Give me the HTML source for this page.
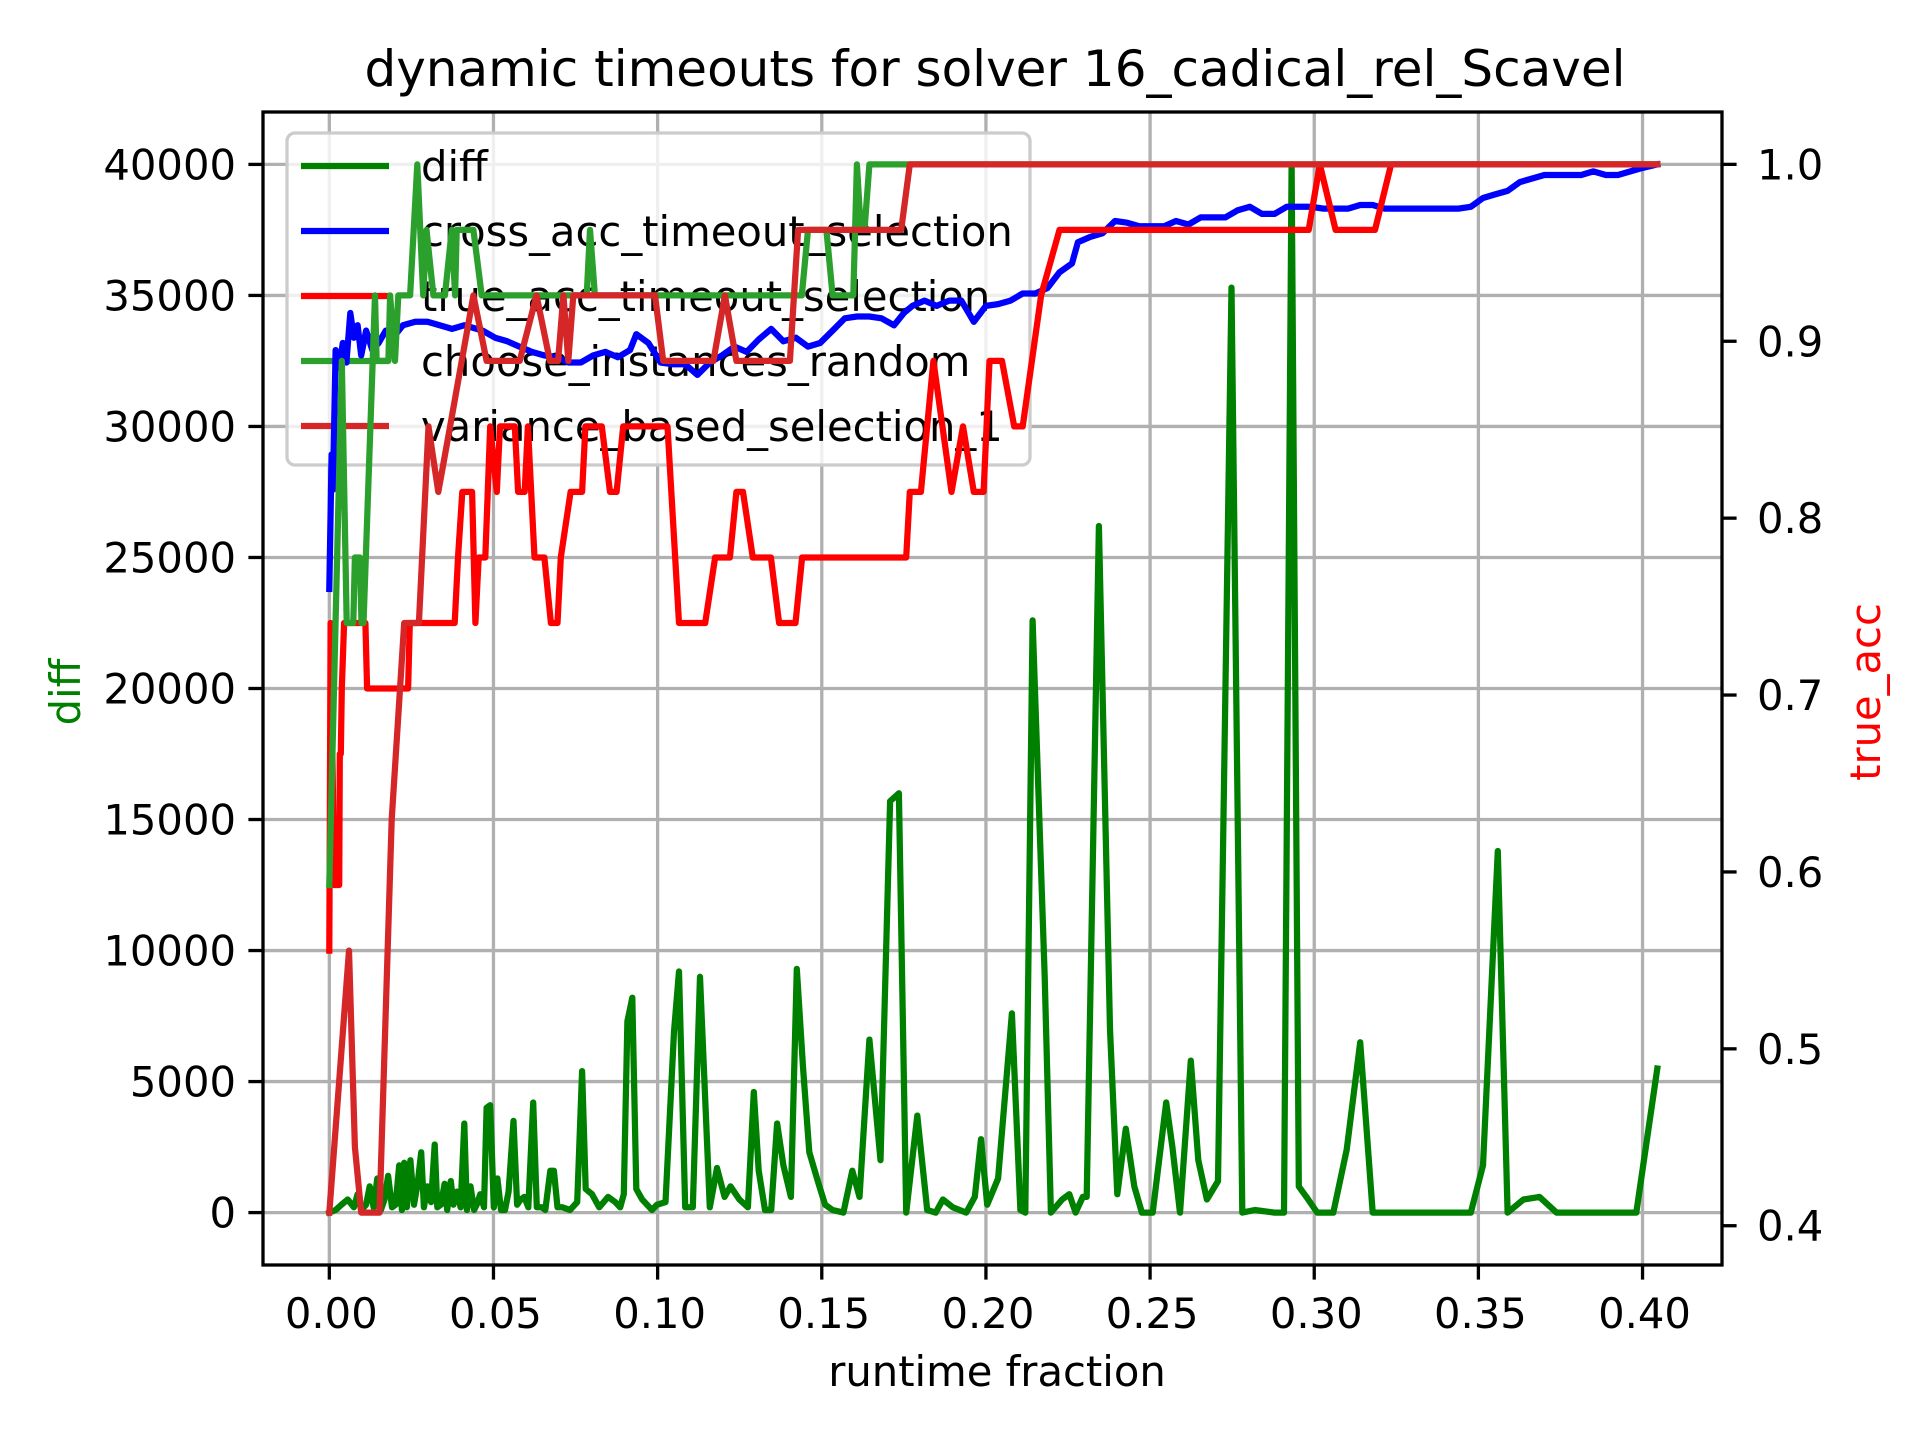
<!DOCTYPE html>
<html><head><meta charset="utf-8">
<style>
html,body{margin:0;padding:0;background:#fff;}
svg{display:block;font-family:"DejaVu Sans","Liberation Sans",sans-serif;}
</style></head>
<body>
<svg id="chart" width="1920" height="1440" viewBox="0 0 1920 1440" xmlns="http://www.w3.org/2000/svg">
<rect width="1920" height="1440" fill="#fff"/>
<text x="995" y="86" font-size="50" text-anchor="middle" fill="#000">dynamic timeouts for solver 16_cadical_rel_Scavel</text>
<g id="gridL"></g>
<g id="seriesL"></g>
<g id="legend"></g>
<g id="seriesR"></g>
<g id="axes"></g>
<text x="997" y="1392" font-size="41.7" text-anchor="middle" transform="translate(0,-6)">runtime fraction</text>
<text transform="translate(80,692) rotate(-90)" font-size="41.7" text-anchor="middle" fill="#008000">diff</text>
<text transform="translate(1880,692) rotate(-90)" font-size="41.7" text-anchor="middle" fill="#ff0000">true_acc</text>
</svg>
<script>
const xTicks=[0,0.05,0.10,0.15,0.20,0.25,0.30,0.35,0.40];
const xTickLabels=["0.00","0.05","0.10","0.15","0.20","0.25","0.30","0.35","0.40"];
const yLTicks=[0,5000,10000,15000,20000,25000,30000,35000,40000];
const yLTickLabels=["0","5000","10000","15000","20000","25000","30000","35000","40000"];
const yRTicks=[0.4,0.5,0.6,0.7,0.8,0.9,1.0];
const yRTickLabels=["0.4","0.5","0.6","0.7","0.8","0.9","1.0"];

const diffX=[0,0.0019,0.0037,0.0056,0.0075,0.0086,0.0097,0.0112,0.0123,0.0135,0.0146,0.0157,0.0168,0.0179,0.0191,0.0202,0.0213,0.0221,0.0228,0.0236,0.0247,0.0258,0.0269,0.028,0.0288,0.0299,0.031,0.0321,0.0329,0.034,0.0351,0.0359,0.037,0.0378,0.0389,0.04,0.0411,0.0419,0.043,0.0441,0.0449,0.046,0.0471,0.0479,0.049,0.0501,0.0512,0.0523,0.0535,0.0546,0.0561,0.0572,0.0583,0.0594,0.0606,0.0621,0.0632,0.0647,0.0658,0.0673,0.0684,0.0695,0.071,0.0733,0.0755,0.077,0.0781,0.08,0.0822,0.0849,0.0871,0.0886,0.0897,0.0908,0.0923,0.0935,0.0953,0.0983,0.0998,0.1024,0.105,0.1065,0.1084,0.1107,0.1129,0.1159,0.1181,0.1204,0.1222,0.1249,0.1275,0.1293,0.1308,0.1327,0.1346,0.1364,0.1383,0.1406,0.1424,0.1443,0.1462,0.1488,0.151,0.1533,0.1566,0.1593,0.1615,0.1645,0.1679,0.1708,0.1735,0.1757,0.1791,0.1821,0.1847,0.1869,0.1899,0.194,0.1966,0.1985,0.2004,0.2037,0.2079,0.2105,0.212,0.2142,0.2179,0.2198,0.2232,0.2254,0.2273,0.2295,0.2307,0.2344,0.2378,0.24,0.2426,0.2452,0.2475,0.2508,0.2549,0.2568,0.2591,0.2624,0.2647,0.2673,0.2707,0.2748,0.2781,0.2819,0.2879,0.2908,0.2931,0.2953,0.2976,0.3009,0.3058,0.3099,0.314,0.3178,0.3477,0.3514,0.3559,0.3589,0.3637,0.3686,0.3738,0.3981,0.4045];
const diffY=[0,100,300,500,200,700,100,300,1000,200,1300,100,500,1400,200,300,1800,100,1900,200,2000,300,1100,2300,200,1000,400,2600,200,300,1100,100,1200,300,800,200,3400,100,1000,100,300,700,200,4000,4100,200,1300,100,100,800,3500,300,500,600,200,4200,200,200,100,1600,1600,200,200,100,400,5400,900,700,200,600,400,200,700,7300,8200,900,500,100,300,400,6900,9200,200,200,9000,200,1700,600,1000,500,200,4600,1600,100,100,3400,1800,600,9300,5500,2300,1200,300,100,0,1600,600,6600,2000,15700,16000,0,3700,100,0,500,200,0,600,2800,300,1300,7600,100,0,22600,9000,0,500,700,0,600,600,26200,7000,700,3200,1000,0,0,4200,2500,0,5800,2000,500,1200,35300,0,100,0,0,40000,1000,600,0,0,2400,6500,0,0,1800,13800,0,500,600,0,0,5500];

const crossX=[0,0.0007,0.0011,0.0019,0.003,0.0041,0.0052,0.0064,0.0075,0.0086,0.0097,0.0112,0.0131,0.015,0.0172,0.0194,0.0224,0.0262,0.0299,0.0336,0.0374,0.0411,0.0467,0.0505,0.0542,0.0579,0.0617,0.0654,0.0692,0.0729,0.0766,0.0804,0.0841,0.0879,0.0916,0.0935,0.0972,0.1009,0.1047,0.1084,0.1121,0.1159,0.1196,0.1234,0.1271,0.1308,0.1346,0.1383,0.1421,0.1458,0.1495,0.1533,0.157,0.1607,0.1645,0.1682,0.172,0.175,0.1776,0.1813,0.185,0.1888,0.1925,0.1963,0.2,0.2037,0.2075,0.2112,0.215,0.2187,0.2224,0.2262,0.228,0.2318,0.2355,0.2393,0.243,0.2467,0.2505,0.2542,0.2579,0.2617,0.2654,0.2692,0.2729,0.2766,0.2804,0.2841,0.2879,0.2916,0.2953,0.2991,0.3028,0.3065,0.3103,0.314,0.3178,0.3215,0.3252,0.3439,0.3477,0.3514,0.3551,0.3589,0.3626,0.3664,0.3701,0.3738,0.3776,0.3813,0.385,0.3888,0.3925,0.3963,0.4,0.4045];
const crossY=[0.760,0.836,0.816,0.895,0.885,0.899,0.888,0.916,0.902,0.909,0.892,0.906,0.895,0.899,0.906,0.902,0.909,0.911,0.911,0.909,0.907,0.909,0.906,0.902,0.900,0.897,0.894,0.892,0.891,0.888,0.888,0.892,0.894,0.891,0.895,0.904,0.899,0.888,0.887,0.887,0.881,0.888,0.892,0.897,0.894,0.901,0.907,0.900,0.902,0.897,0.899,0.906,0.913,0.914,0.914,0.913,0.909,0.916,0.920,0.923,0.920,0.923,0.923,0.911,0.920,0.921,0.923,0.927,0.927,0.930,0.939,0.944,0.956,0.959,0.961,0.968,0.967,0.965,0.965,0.965,0.968,0.966,0.970,0.970,0.970,0.974,0.976,0.972,0.972,0.976,0.976,0.976,0.975,0.975,0.975,0.977,0.977,0.975,0.975,0.975,0.976,0.981,0.983,0.985,0.990,0.992,0.994,0.994,0.994,0.994,0.996,0.994,0.994,0.996,0.998,1.0];

const trueX=[0,0.0004,0.0015,0.003,0.0032,0.0035,0.0038,0.0045,0.011,0.0115,0.024,0.0245,0.0382,0.0392,0.0405,0.0435,0.0445,0.0455,0.0475,0.049,0.051,0.052,0.0565,0.0575,0.0595,0.0605,0.0625,0.0655,0.0675,0.0695,0.0705,0.0735,0.077,0.078,0.083,0.0855,0.0875,0.0895,0.103,0.1065,0.1145,0.1175,0.122,0.124,0.126,0.129,0.1345,0.137,0.142,0.144,0.1757,0.1768,0.1802,0.184,0.1895,0.193,0.1963,0.1993,0.2011,0.2049,0.2086,0.2112,0.2168,0.2224,0.2983,0.3017,0.3065,0.3185,0.3234,0.4045];
const trueK=[15,20,16,16,18,18,19,20,20,19,19,20,20,21,22,22,20,21,21,23,22,23,23,22,22,23,21,21,20,20,21,22,22,23,23,22,22,23,23,20,20,21,21,22,22,21,21,20,20,21,21,22,22,24,22,23,22,22,24,24,23,23,25,26,26,27,26,26,27,27];

const randX=[0,0.0038,0.0053,0.0073,0.0078,0.0093,0.0098,0.0104,0.0139,0.0144,0.018,0.0185,0.02,0.021,0.0246,0.0268,0.0286,0.0296,0.0317,0.0352,0.0373,0.0383,0.0388,0.0439,0.0464,0.0784,0.0794,0.0809,0.1439,0.1458,0.1514,0.1533,0.1596,0.1607,0.1619,0.163,0.1645,0.4045];
const randK=[16,24,20,20,21,21,20,20,25,24,24,25,24,25,25,27,25,26,25,25,26,25,26,26,25,25,26,25,25,26,26,25,25,27,26,26,27,27];

const varX=[0,0.006,0.0078,0.0097,0.0153,0.019,0.0228,0.0273,0.0302,0.0332,0.0368,0.0439,0.0479,0.058,0.0631,0.0672,0.0697,0.0713,0.0728,0.0743,0.0992,0.1017,0.117,0.1205,0.124,0.1403,0.1428,0.1742,0.1768,0.4045];
const varK=[11,15,12,11,11,17,20,20,23,22,23,25,24,24,25,24,24,25,24,25,25,24,24,25,24,24,26,26,27,27];

const X0=263,X1=1722,Y0=112,Y1=1265;
const xmin=-0.0202,xmax=0.4242,lmin=-2000,lmax=42000,rmin=0.3778,rmax=1.0296;
const sx=v=>X0+(v-xmin)/(xmax-xmin)*(X1-X0);
const syL=v=>Y1-(v-lmin)/(lmax-lmin)*(Y1-Y0);
const syR=v=>Y1-(v-rmin)/(rmax-rmin)*(Y1-Y0);
const NS="http://www.w3.org/2000/svg";
function mk(tag,parent){const e=document.createElementNS(NS,tag);document.getElementById(parent).appendChild(e);return e;}

xTicks.forEach(t=>{const l=mk('line','gridL');


l.setAttribute('x1',sx(t));l.setAttribute('x2',sx(t));l.setAttribute('y1',Y0);l.setAttribute('y2',Y1);l.setAttribute('stroke','#b0b0b0');l.setAttribute('stroke-width','3.3');});
yLTicks.forEach(t=>{const l=mk('line','gridL');


l.setAttribute('x1',X0);l.setAttribute('x2',X1);l.setAttribute('y1',syL(t));l.setAttribute('y2',syL(t));l.setAttribute('stroke','#b0b0b0');l.setAttribute('stroke-width','3.3');});

function poly(parent,xs,ys,fy,color,name){const p=mk('polyline',parent);


p.setAttribute('points',xs.map((x,i)=>sx(x).toFixed(1)+','+fy(ys[i]).toFixed(1)).join(' '));
p.setAttribute('fill','none');p.setAttribute('stroke',color);p.setAttribute('stroke-width','6.25');p.setAttribute('stroke-linejoin','round');p.setAttribute('stroke-linecap','square');}
const kY=k=>syR(k/27);
poly('seriesL',diffX,diffY,syL,'#008000','diff-line');

(function(){const g='legend';
const b=mk('rect',g);


b.setAttribute('x',287);b.setAttribute('y',133);b.setAttribute('width',743);b.setAttribute('height',332);b.setAttribute('rx',8);b.setAttribute('fill','rgba(255,255,255,0.8)');b.setAttribute('stroke','#cccccc');b.setAttribute('stroke-width','3.3');
const names=['diff','cross_acc_timeout_selection','true_acc_timeout_selection','choose_instances_random','variance_based_selection_1'];
const cols=['#008000','#0000ff','#ff0000','#2ca02c','#d62728'];
names.forEach((n,i)=>{const y=166+i*65;
const l=mk('line',g);


l.setAttribute('x1',301);l.setAttribute('x2',389);l.setAttribute('y1',y);l.setAttribute('y2',y);l.setAttribute('stroke',cols[i]);l.setAttribute('stroke-width','6.25');
const t=mk('text',g);


t.setAttribute('x',421);t.setAttribute('y',y+15);t.setAttribute('font-size','41.7');t.textContent=n;});
})();

poly('seriesR',crossX,crossY,syR,'#0000ff','cross-acc-line');
poly('seriesR',trueX,trueK,kY,'#ff0000','true-acc-line');
poly('seriesR',randX,randK,kY,'#2ca02c','choose-random-line');
poly('seriesR',varX,varK,kY,'#d62728','variance-line');

const fr=mk('rect','axes');


fr.setAttribute('x',X0);fr.setAttribute('y',Y0);fr.setAttribute('width',X1-X0);fr.setAttribute('height',Y1-Y0);fr.setAttribute('fill','none');fr.setAttribute('stroke','#000');fr.setAttribute('stroke-width','3.3');
xTicks.forEach((t,i)=>{const l=mk('line','axes');


l.setAttribute('x1',sx(t));l.setAttribute('x2',sx(t));l.setAttribute('y1',Y1);l.setAttribute('y2',Y1+14.6);l.setAttribute('stroke','#000');l.setAttribute('stroke-width','3.3');
const tx=mk('text','axes');


tx.setAttribute('x',sx(t)+2);tx.setAttribute('y',1328);tx.setAttribute('font-size','41.7');tx.setAttribute('text-anchor','middle');tx.textContent=xTickLabels[i];});
yLTicks.forEach((t,i)=>{const l=mk('line','axes');


l.setAttribute('x1',X0-14.6);l.setAttribute('x2',X0);l.setAttribute('y1',syL(t));l.setAttribute('y2',syL(t));l.setAttribute('stroke','#000');l.setAttribute('stroke-width','3.3');
const tx=mk('text','axes');


tx.setAttribute('x',236);tx.setAttribute('y',syL(t)+15);tx.setAttribute('font-size','41.7');tx.setAttribute('text-anchor','end');tx.textContent=yLTickLabels[i];});
yRTicks.forEach((t,i)=>{const l=mk('line','axes');


l.setAttribute('x1',X1);l.setAttribute('x2',X1+14.6);l.setAttribute('y1',syR(t));l.setAttribute('y2',syR(t));l.setAttribute('stroke','#000');l.setAttribute('stroke-width','3.3');
const tx=mk('text','axes');


tx.setAttribute('x',1757);tx.setAttribute('y',syR(t)+15);tx.setAttribute('font-size','41.7');tx.textContent=yRTickLabels[i];});
</script>
</body></html>
